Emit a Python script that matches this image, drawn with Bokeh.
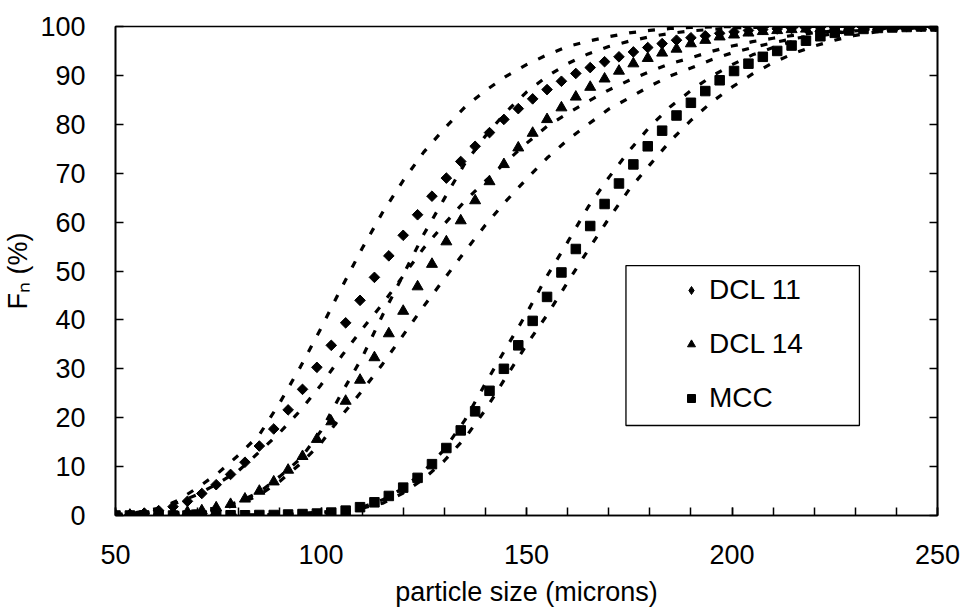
import math
from bokeh.plotting import figure
from bokeh.models import (Legend, LegendItem, LinearAxis, BoxAnnotation, Range1d,
                          SingleIntervalTicker, CustomJSTickFormatter, ColumnDataSource)
from bokeh.embed import file_html
from bokeh.resources import INLINE

# ---- measured data (particle size in microns, cumulative % undersize) ----
sizes = [50.0, 53.5, 57.0, 60.5, 64.0, 67.5, 71.0, 74.5, 78.0, 81.5,
         85.0, 88.5, 92.0, 95.5, 99.0, 102.5, 106.0, 109.5, 113.0, 116.5,
         120.0, 123.5, 127.0, 130.5, 134.0, 137.5, 141.0, 144.5, 148.0, 151.5,
         155.0, 158.5, 162.0, 165.5, 169.0, 172.5, 176.0, 179.5, 183.0, 186.5,
         190.0, 193.5, 197.0, 200.5, 204.0, 207.5, 211.0, 214.5, 218.0, 221.5,
         225.0, 228.5, 232.0, 235.5, 239.0, 242.5, 246.0, 249.5]

dcl11 = [0.1, 0.2, 0.5, 1.0, 1.8, 2.9, 4.5, 6.3, 8.4, 10.9,
         14.2, 17.7, 21.6, 25.8, 30.3, 34.8, 39.4, 44.0, 48.7, 53.1,
         57.3, 61.5, 65.3, 69.0, 72.4, 75.5, 78.3, 81.0, 83.2, 85.2,
         87.1, 88.8, 90.4, 91.6, 92.8, 93.8, 94.8, 95.7, 96.5, 97.2,
         97.7, 98.1, 98.6, 98.9, 99.2, 99.4, 99.5, 99.6, 99.7, 99.8,
         99.85, 99.9, 99.9, 99.95, 100, 100, 100, 100]

dcl14 = [0.05, 0.1, 0.2, 0.3, 0.5, 0.7, 1.0, 1.6, 2.3, 3.4,
         5.0, 6.9, 9.3, 12.1, 15.6, 19.2, 23.4, 27.7, 32.3, 37.2,
         41.8, 46.8, 51.4, 56.0, 60.3, 64.4, 68.3, 71.8, 75.2, 78.2,
         81.0, 83.4, 85.6, 87.6, 89.3, 90.9, 92.4, 93.5, 94.6, 95.4,
         96.5, 97.2, 97.9, 98.3, 98.7, 99.0, 99.2, 99.4, 99.5, 99.6,
         99.7, 99.8, 99.85, 99.9, 99.9, 100, 100, 100]

mcc = [0.0, 0.0, 0.0, 0.0, 0.0, 0.0, 0.0, 0.0, 0.05, 0.05,
       0.1, 0.1, 0.2, 0.3, 0.4, 0.6, 1.0, 1.7, 2.7, 4.0,
       5.7, 7.7, 10.5, 13.8, 17.4, 21.3, 25.5, 30.0, 34.8, 39.8,
       44.7, 49.7, 54.5, 59.2, 63.7, 67.9, 71.8, 75.5, 78.7, 81.8,
       84.4, 86.8, 89.0, 90.9, 92.4, 93.8, 95.0, 96.1, 97.1, 98.0,
       98.7, 99.2, 99.5, 99.7, 99.8, 99.9, 100, 100]

# ---- fitted model curves (two fits per material) ----
fit_x = [50, 55, 60, 65, 70, 75, 80, 85, 90, 95,
         100, 105, 110, 115, 120, 125, 130, 135, 140, 145,
         150, 155, 160, 165, 170, 175, 180, 185, 190, 195,
         200, 205, 210, 215, 220, 225, 230, 235, 240, 245,
         250]

dcl11_fit_a = [0.1, 0.4, 1.2, 3.0, 5.7, 8.7, 12.4, 16.5, 23.1, 30.4,
               38.3, 46.6, 54.6, 62.0, 68.5, 74.3, 79.1, 83.5, 86.9, 89.8,
               92.2, 94.2, 95.9, 97.0, 97.9, 98.7, 99.2, 99.6, 99.8, 99.9,
               100, 100, 100, 100, 100, 100, 100, 100, 100, 100,
               100]

dcl11_fit_b = [0.0, 0.1, 0.3, 0.6, 1.0, 1.6, 2.8, 4.8, 8.0, 11.6,
               17.3, 25.0, 32.3, 41.0, 49.2, 57.5, 64.8, 72.0, 77.6, 82.5,
               86.6, 89.8, 92.4, 94.4, 95.9, 97.0, 97.9, 98.6, 99.1, 99.4,
               99.7, 99.8, 99.9, 100, 100, 100, 100, 100, 100, 100,
               100]

dcl14_fit_a = [0.2, 0.6, 1.4, 2.6, 4.3, 6.6, 9.2, 13.0, 17.0, 21.5,
               26.7, 32.6, 38.1, 43.3, 49.0, 54.7, 59.6, 64.3, 68.4, 72.3,
               76.1, 79.6, 82.2, 84.7, 87.0, 89.0, 90.8, 92.4, 93.6, 94.9,
               96.0, 96.9, 97.6, 98.2, 98.7, 99.1, 99.4, 99.6, 99.8, 99.9,
               100]

dcl14_fit_b = [0.0, 0.05, 0.1, 0.3, 0.6, 1.2, 2.3, 4.2, 7.0, 10.6,
               14.8, 20.4, 25.5, 31.0, 36.9, 42.8, 48.4, 54.0, 59.4, 64.3,
               68.8, 73.1, 76.8, 80.0, 83.1, 85.4, 87.8, 89.9, 91.5, 93.2,
               94.6, 95.7, 96.7, 97.5, 98.2, 98.7, 99.1, 99.4, 99.6, 99.8,
               99.9]

mcc_fit_a = [0.0, 0.0, 0.0, 0.0, 0.0, 0.05, 0.1, 0.15, 0.25, 0.4,
             0.7, 1.1, 1.7, 3.2, 5.6, 9.0, 13.5, 19.5, 27.0, 34.2,
             41.3, 49.0, 55.9, 63.1, 69.1, 74.6, 79.5, 83.6, 86.9, 89.8,
             92.2, 94.2, 95.7, 97.0, 97.9, 98.6, 99.1, 99.5, 99.7, 99.9,
             100]

mcc_fit_b = [0.0, 0.0, 0.0, 0.0, 0.0, 0.0, 0.0, 0.05, 0.1, 0.2,
             0.4, 0.8, 1.5, 2.5, 4.6, 7.5, 11.2, 15.8, 21.6, 28.3,
             34.9, 41.0, 47.7, 54.3, 60.7, 66.7, 71.7, 76.6, 80.8, 84.5,
             87.6, 90.3, 92.6, 94.5, 96.0, 97.2, 98.2, 98.9, 99.4, 99.7,
             99.9]

series_labels = ["DCL 11", "DCL 14", "MCC"]
x_title = "particle size (microns)"
y_title = "F\u2099 (%)"

FONT = "Liberation Sans"
FS = "27px"

p = figure(width=964, height=613, output_backend="svg", toolbar_location=None,
           x_range=Range1d(50, 250), y_range=Range1d(0, 100),
           min_border_left=114, min_border_right=27, min_border_top=26,
           min_border_bottom=98,
           x_axis_label=x_title, y_axis_label=y_title)

p.background_fill_color = "white"
p.border_fill_color = "white"
p.outline_line_color = "black"
p.outline_line_width = 1.6
p.grid.visible = False

# x axis
xa = p.xaxis[0]
xa.ticker = SingleIntervalTicker(interval=50, num_minor_ticks=5)
xa.major_tick_in = 8
xa.major_tick_out = 0
xa.minor_tick_in = 8
xa.minor_tick_out = 0
xa.major_tick_line_width = 1.5
xa.minor_tick_line_width = 1.5
xa.axis_line_width = 1.6
xa.major_label_standoff = 29
xa.axis_label_standoff = 10
xa.major_label_text_font = FONT
xa.major_label_text_font_size = FS
xa.major_label_text_color = "black"
xa.axis_label_text_font = FONT
xa.axis_label_text_font_size = FS
xa.axis_label_text_font_style = "normal"
xa.axis_label_text_color = "black"

# y axis
ya = p.yaxis[0]
ya.ticker = SingleIntervalTicker(interval=10, num_minor_ticks=0)
ya.major_tick_in = 8
ya.major_tick_out = 0
ya.minor_tick_in = 0
ya.minor_tick_out = 0
ya.major_tick_line_width = 1.5
ya.axis_line_width = 1.6
ya.major_label_standoff = 30
ya.axis_label_standoff = 4
ya.major_label_text_font = FONT
ya.major_label_text_font_size = FS
ya.major_label_text_color = "black"
ya.axis_label_text_font = FONT
ya.axis_label_text_font_size = FS
ya.axis_label_text_font_style = "normal"
ya.axis_label_text_color = "black"

# right axis: inward ticks only
ra = LinearAxis(ticker=SingleIntervalTicker(interval=10, num_minor_ticks=0),
                formatter=CustomJSTickFormatter(code="return ''"),
                major_tick_in=8, major_tick_out=0, minor_tick_in=0, minor_tick_out=0,
                major_tick_line_width=1.5, axis_line_width=1.6,
                major_label_text_font_size="1px", major_label_standoff=0)
p.add_layout(ra, "right")

DASH = "7 12"
LW = 3.2
for fy in [dcl11_fit_a, dcl11_fit_b, dcl14_fit_a, dcl14_fit_b, mcc_fit_a, mcc_fit_b]:
    p.line(fit_x, fy, line_color="black", line_width=LW, line_dash=DASH)

src = ColumnDataSource(data=dict(x=sizes, d11=dcl11, d14=dcl14, mcc=mcc))
r1 = p.scatter("x", "d11", source=src, marker="square", angle=math.pi / 4, size=7.5,
               fill_color="black", line_color="black")
r2 = p.scatter("x", "d14", source=src, marker="triangle", size=11,
               fill_color="black", line_color="black")
r3 = p.scatter("x", "mcc", source=src, marker="square", size=9.5,
               fill_color="black", line_color="black")

# hidden renderer used only for the legend's diamond symbol
r1_leg = p.scatter("x", "d11", source=src, marker="diamond", size=10,
                   fill_color="black", line_color="black", visible=False)

# legend frame
box = BoxAnnotation(left=174.2, right=231.0, bottom=18.4, top=51.1,
                    fill_color="white", fill_alpha=1.0,
                    line_color="black", line_alpha=1.0, line_width=1.3)
p.add_layout(box)

legend = Legend(items=[LegendItem(label=series_labels[0], renderers=[r1_leg]),
                       LegendItem(label=series_labels[1], renderers=[r2]),
                       LegendItem(label=series_labels[2], renderers=[r3])],
                location=(556, 91), padding=10, spacing=22, margin=0,
                label_height=30, glyph_height=30, glyph_width=20,
                label_standoff=8,
                border_line_alpha=0, background_fill_alpha=0,
                inactive_fill_alpha=0,
                label_text_font=FONT, label_text_font_size="28px",
                label_text_color="black")
p.add_layout(legend)

open("out.html", "w").write(file_html(p, INLINE))
